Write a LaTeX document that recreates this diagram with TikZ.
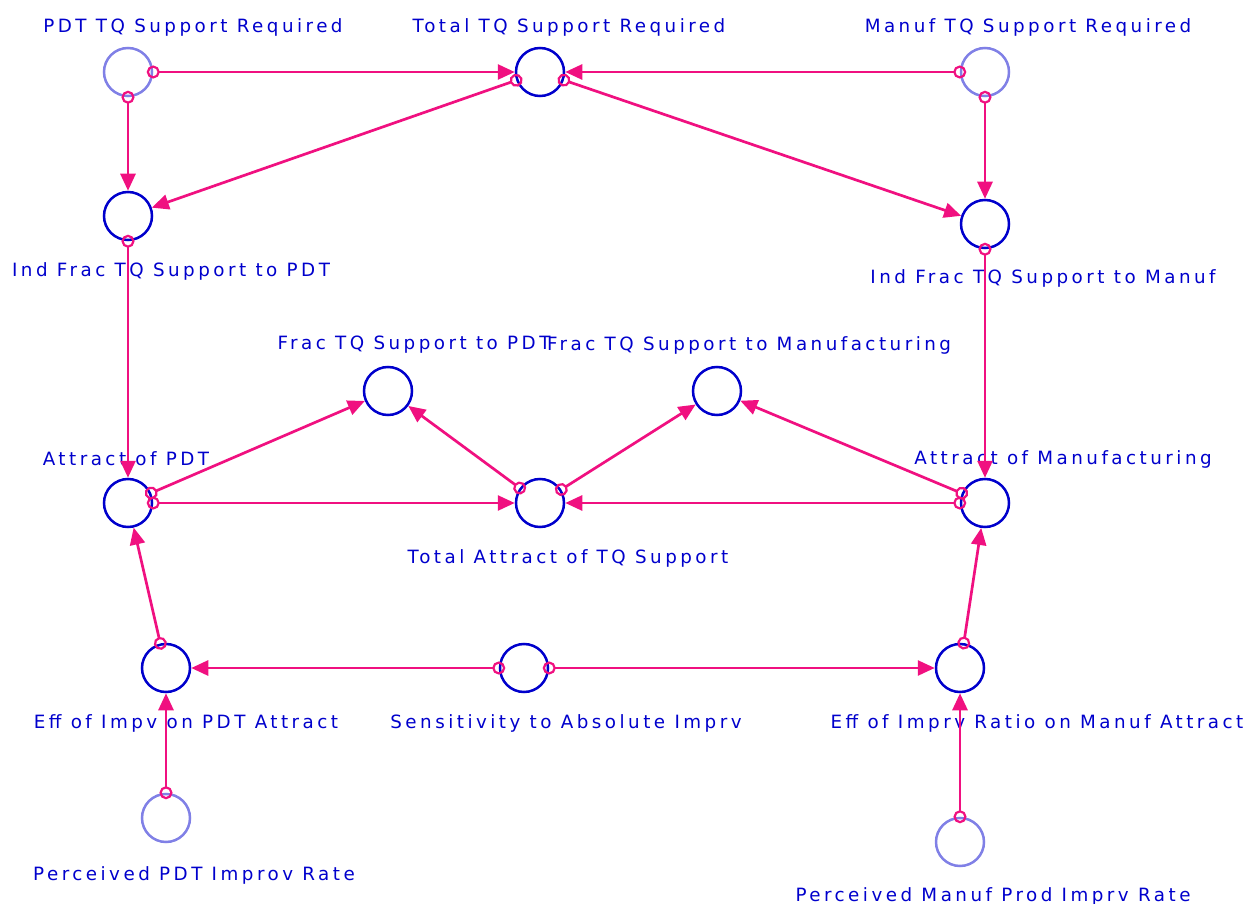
\documentclass[tikz,border=0pt]{standalone}
\usepackage{fontspec}
\newfontfamily\vfont[LetterSpace=19]{DejaVu Sans}
\usetikzlibrary{arrows.meta}
\definecolor{vblue}{RGB}{0,0,204}
\definecolor{vghost}{RGB}{128,128,230}
\definecolor{vpink}{RGB}{240,16,128}

\begin{document}
\begin{tikzpicture}[x=1pt,y=-1pt,
    aux/.style={circle,draw=vblue,line width=2.5pt,minimum size=48pt,inner sep=0pt},
    shadow/.style={aux,draw=vghost},
    lbl/.style={text=vblue,font=\vfont\fontsize{18.3}{20}\selectfont,inner sep=0pt},
    link/.style={vpink,line width=2.7pt,shorten <=-6.5pt,
      {Circle[open,length=13pt,width=13pt,line width=2.2pt]}-{Triangle[length=17pt,width=15pt]}}]
  \useasboundingbox (0,0) rectangle (1254,904);
  % variables
  \node[shadow] (ptq) at (128,72) {};
  \node[aux] (ttq) at (540,72) {};
  \node[shadow] (mtq) at (985,72) {};
  \node[aux] (ifp) at (128,216) {};
  \node[aux] (ifm) at (985,224) {};
  \node[aux] (fp) at (388,391) {};
  \node[aux] (fm) at (717,391) {};
  \node[aux] (ap) at (128,503) {};
  \node[aux] (ta) at (540,503) {};
  \node[aux] (am) at (985,503) {};
  \node[aux] (ep) at (166,668) {};
  \node[aux] (sa) at (524,668) {};
  \node[aux] (em) at (960,668) {};
  \node[shadow] (pp) at (166,818) {};
  \node[shadow] (pm) at (960,842) {};
  % names
  \node[lbl] (ptq-l) at (193,27) {PDT TQ Support Required};
  \node[lbl] (ttq-l) at (569,27) {Total TQ Support Required};
  \node[lbl] (mtq-l) at (1028,27) {Manuf TQ Support Required};
  \node[lbl] (ifp-l) at (171,271) {Ind Frac TQ Support to PDT};
  \node[lbl] (ifm-l) at (1043,278) {Ind Frac TQ Support to Manuf};
  \node[lbl] (fp-l) at (414,345) {Frac TQ Support to PDT};
  \node[lbl] (fm-l) at (749,345) {Frac TQ Support to Manufacturing};
  \node[lbl] (ap-l) at (126,459) {Attract of PDT};
  \node[lbl] (am-l) at (1063,459) {Attract of Manufacturing};
  \node[lbl] (ta-l) at (568,558) {Total Attract of TQ Support};
  \node[lbl] (ep-l) at (186,723) {Eff of Impv on PDT Attract};
  \node[lbl] (sa-l) at (566,723) {Sensitivity to Absolute Imprv};
  \node[lbl] (em-l) at (1037,723) {Eff of Imprv Ratio on Manuf Attract};
  \node[lbl] (pp-l) at (194,875) {Perceived PDT Improv Rate};
  \node[lbl] (pm-l) at (993,896) {Perceived Manuf Prod Imprv Rate};
  % links
  \draw[link] (ptq) -- (ttq);
  \draw[link] (mtq) -- (ttq);
  \draw[link] (ptq) -- (ifp);
  \draw[link] (mtq) -- (ifm);
  \draw[link] (ttq) -- (ifp);
  \draw[link] (ttq) -- (ifm);
  \draw[link] (ifp) -- (ap);
  \draw[link] (ifm) -- (am);
  \draw[link] (ap) -- (fp);
  \draw[link] (ap) -- (ta);
  \draw[link] (ta) -- (fp);
  \draw[link] (ta) -- (fm);
  \draw[link] (am) -- (ta);
  \draw[link] (am) -- (fm);
  \draw[link] (ep) -- (ap);
  \draw[link] (em) -- (am);
  \draw[link] (sa) -- (ep);
  \draw[link] (sa) -- (em);
  \draw[link] (pp) -- (ep);
  \draw[link] (pm) -- (em);
\end{tikzpicture}
\end{document}
